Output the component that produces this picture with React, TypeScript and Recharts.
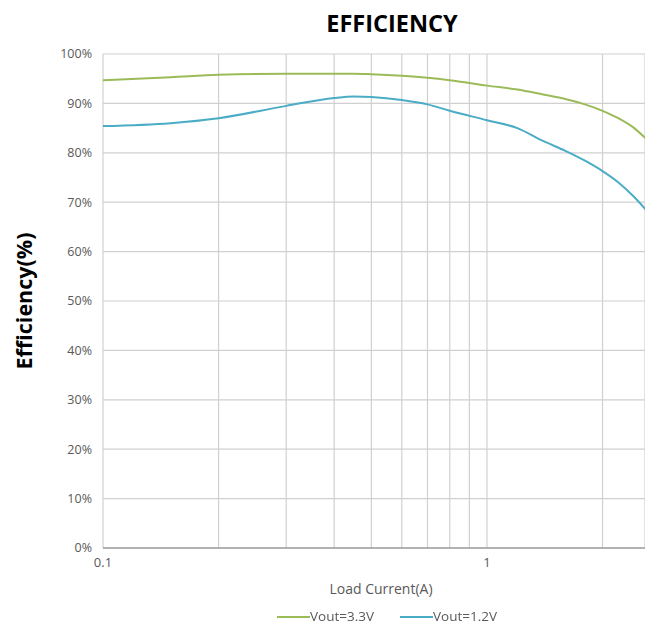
import { LineChart, Line, XAxis, YAxis, CartesianGrid, Label } from "recharts"

// load current (A), sampled along the log axis
const currents = [0.1, 0.15, 0.2, 0.3, 0.4, 0.45, 0.5, 0.6, 0.7, 0.8, 1.0, 1.2, 1.4, 1.6, 1.8, 2.0, 2.2, 2.4, 2.6]

// efficiency (%) per series
const eff33 = [94.7, 95.3, 95.8, 96.0, 96.0, 96.0, 95.9, 95.6, 95.2, 94.7, 93.6, 92.8, 91.8, 90.9, 89.8, 88.5, 87.0, 85.2, 82.8]
const eff12 = [85.4, 86.0, 87.0, 89.5, 91.1, 91.4, 91.3, 90.7, 89.8, 88.5, 86.6, 85.0, 82.4, 80.4, 78.4, 76.3, 74.0, 71.3, 68.4]

const xTicks = [0.1, 0.2, 0.3, 0.4, 0.5, 0.6, 0.7, 0.8, 0.9, 1, 2]
const xLabels = ["0.1", "1"]
const yTicks = [0, 10, 20, 30, 40, 50, 60, 70, 80, 90, 100]

const GREEN = "#9bbb59"
const BLUE = "#4bacc6"
const FONT = "'Open Sans', 'Liberation Sans', sans-serif"

const data = currents.map((c, i) => ({ current: c, v33: eff33[i], v12: eff12[i] }))

function YTitle({ viewBox }: any) {
  const x = 23
  const y = viewBox.y + viewBox.height / 2
  return (
    <text
      x={x}
      y={y}
      transform={`rotate(-90 ${x} ${y})`}
      textAnchor="middle"
      dominantBaseline="central"
      style={{ fontSize: 21.5, fontWeight: 700, fill: "#000", fontFamily: FONT }}
    >
      Efficiency(%)
    </text>
  )
}

function XTitle({ viewBox }: any) {
  return (
    <text
      x={381}
      y={viewBox.y + 40}
      textAnchor="middle"
      dominantBaseline="central"
      style={{ fontSize: 14, fill: "#595959", fontFamily: FONT }}
    >
      Load Current(A)
    </text>
  )
}

export default function App() {
  // fixed so nothing here makes the page scroll
  return (
    <div style={{ position: "fixed", top: 0, left: 0, width: 645, height: 624, fontFamily: FONT, background: "#fff" }}>
      <div
        style={{
          position: "absolute",
          top: 7,
          left: 292,
          width: 200,
          textAlign: "center",
          fontSize: 23.5,
          fontWeight: 700,
          color: "#000",
        }}
      >
        EFFICIENCY
      </div>
      <LineChart width={645} height={624} data={data} margin={{ top: 54, right: 0, bottom: 0, left: 0 }}>
        <CartesianGrid stroke="#d0d0d0" strokeWidth={1.2} />
        <XAxis
          dataKey="current"
          type="number"
          scale="log"
          domain={[0.1, 2.58]}
          allowDataOverflow
          ticks={xTicks}
          tickFormatter={(v) => (xLabels.includes(String(v)) ? String(v) : "")}
          tickLine={false}
          tickMargin={4}
          axisLine={{ stroke: "#7f7f7f", strokeWidth: 1.2 }}
          tick={{ fill: "#595959", fontSize: 13, fontFamily: FONT }}
          height={76}
        >
          <Label content={<XTitle />} />
        </XAxis>
        <YAxis
          type="number"
          domain={[0, 100]}
          ticks={yTicks}
          tickFormatter={(v) => `${v}%`}
          tickLine={false}
          axisLine={false}
          tickMargin={5}
          tick={{ fill: "#595959", fontSize: 12.5, fontFamily: FONT }}
          width={103}
        >
          <Label content={<YTitle />} />
        </YAxis>
        <Line type="monotone" dataKey="v33" stroke={GREEN} strokeWidth={2} dot={false} isAnimationActive={false} />
        <Line type="monotone" dataKey="v12" stroke={BLUE} strokeWidth={2} dot={false} isAnimationActive={false} />
      </LineChart>
      <div
        style={{
          position: "absolute",
          top: 609,
          left: 237,
          width: 300,
          display: "flex",
          justifyContent: "center",
          gap: 26,
          fontSize: 13.5,
          lineHeight: "15px",
          color: "#595959",
        }}
      >
        {[
          { name: "Vout=3.3V", color: GREEN },
          { name: "Vout=1.2V", color: BLUE },
        ].map((s) => (
          <div key={s.name} style={{ display: "flex", alignItems: "center" }}>
            <span style={{ display: "inline-block", width: 33, height: 2, background: s.color }} />
            {s.name}
          </div>
        ))}
      </div>
    </div>
  )
}
